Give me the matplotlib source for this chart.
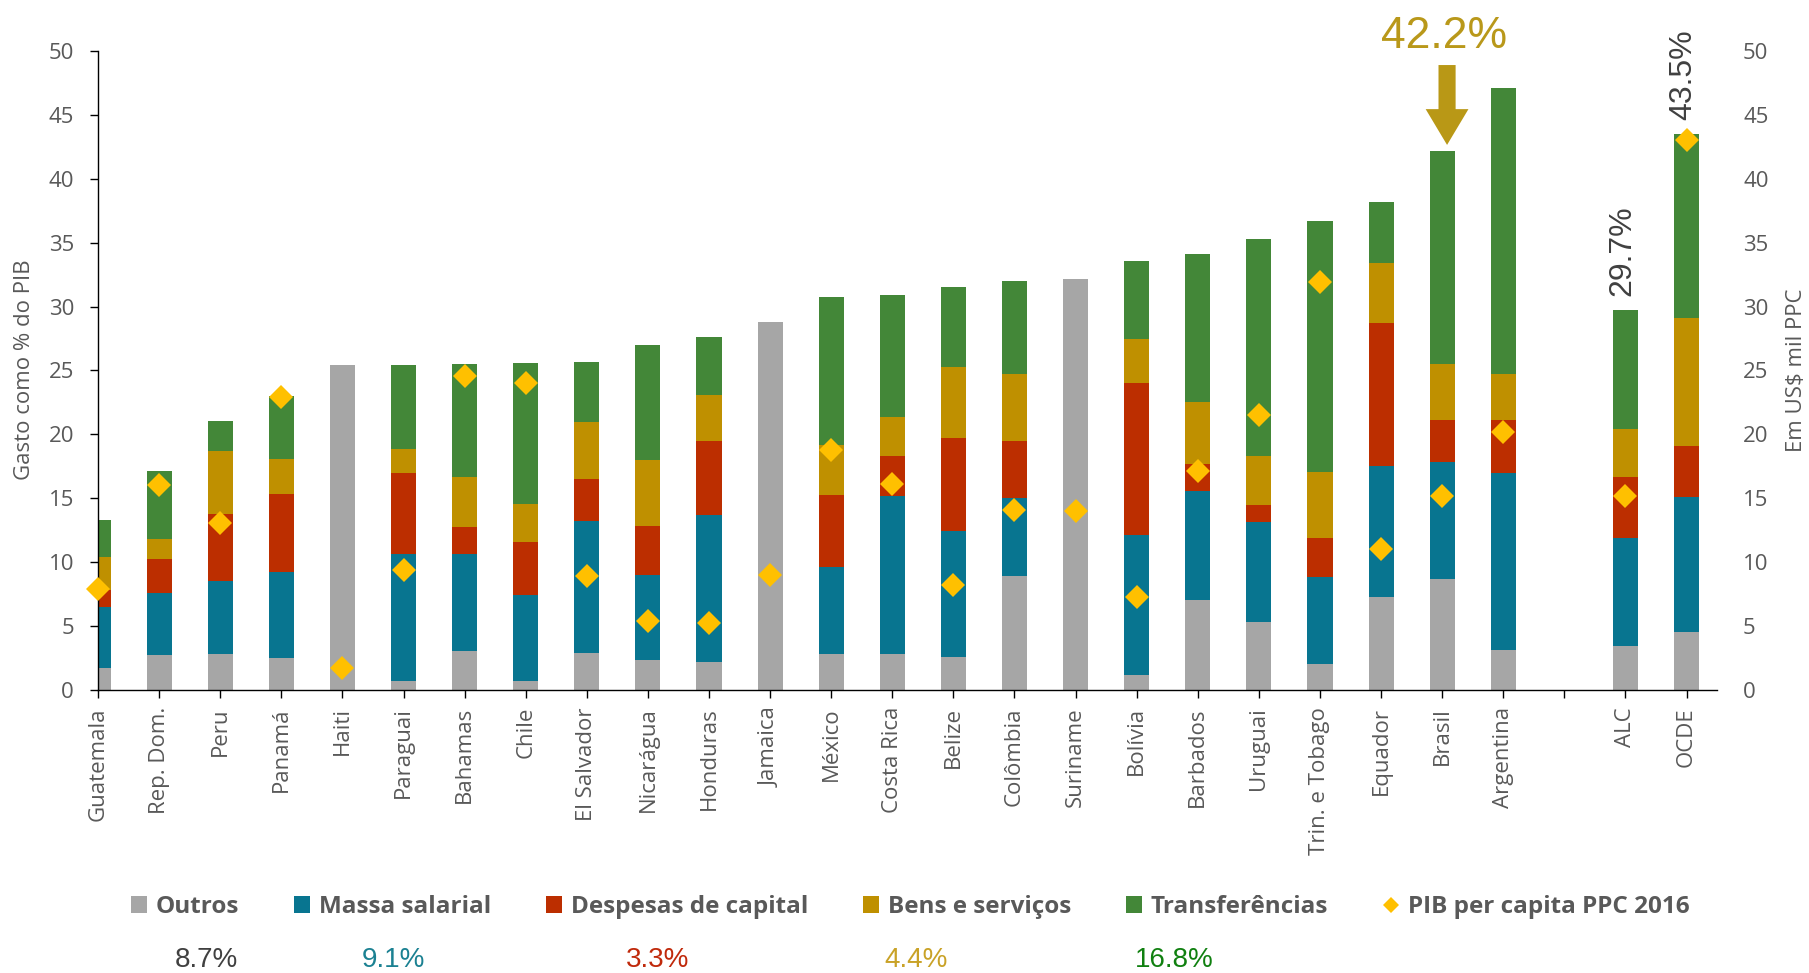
import numpy as np
import matplotlib.pyplot as plt
from matplotlib.patches import Patch, FancyArrow
from matplotlib.lines import Line2D

# gasto publico por componente, % do PIB
paises = ["Guatemala", "Rep. Dom.", "Peru", "Panamá", "Haiti", "Paraguai", "Bahamas", "Chile",
          "El Salvador", "Nicarágua", "Honduras", "Jamaica", "México", "Costa Rica", "Belize",
          "Colômbia", "Suriname", "Bolívia", "Barbados", "Uruguai", "Trin. e Tobago", "Equador",
          "Brasil", "Argentina", "ALC", "OCDE"]

outros = [1.75, 2.73, 2.8, 2.52, 25.4, 0.7, 3.05, 0.7, 2.9, 2.35, 2.17, 28.8, 2.8, 2.8, 2.59,
          8.93, 32.14, 1.16, 7.04, 5.29, 2.03, 7.28, 8.7, 3.12, 3.43, 4.55]
massa_salarial = [4.73, 4.83, 5.74, 6.72, 0, 9.9, 7.55, 6.72, 10.34, 6.65, 11.49, 0, 6.86, 12.4, 9.87,
                  6.06, 0, 10.95, 8.51, 7.88, 6.79, 10.22, 9.1, 13.83, 8.47, 10.51]
despesas_capital = [1.32, 2.7, 5.26, 6.13, 0, 6.35, 2.18, 4.17, 3.29, 3.85, 5.84, 0, 5.61, 3.08, 7.22,
                    4.51, 0, 11.94, 2.17, 1.33, 3.08, 11.18, 3.3, 4.2, 4.73, 4.02]
bens_servicos = [2.63, 1.57, 4.93, 2.73, 0, 1.92, 3.92, 2.98, 4.47, 5.18, 3.6, 0, 3.92, 3.11, 5.57,
                 5.25, 0, 3.4, 4.79, 3.78, 5.12, 4.72, 4.4, 3.6, 3.82, 10.02]
transferencias = [2.87, 5.33, 2.35, 4.87, 0, 6.52, 8.79, 10.99, 4.63, 9.0, 4.5, 0, 11.55, 9.49, 6.26,
                  7.25, 0, 6.09, 11.59, 17.01, 19.67, 4.8, 16.7, 22.38, 9.28, 14.42]
# PIB per capita PPC 2016, mil US$ (eixo direito)
pib_pc = [7.9, 16.0, 13.1, 22.9, 1.75, 9.4, 24.55, 24.0, 8.9, 5.4, 5.25, 8.96, 18.8, 16.1, 8.2,
          14.1, 14.0, 7.25, 17.1, 21.5, 31.9, 11.06, 15.16, 20.2, 15.16, 43.07]

series = ["Outros", "Massa salarial", "Despesas de capital", "Bens e serviços", "Transferências"]
cores = ["#A6A6A6", "#087590", "#BC2E00", "#BF9000", "#438738"]
brasil_txt = ["8.7%", "9.1%", "3.3%", "4.4%", "16.8%"]
brasil_cores = ["#404040", "#1B8192", "#C0290B", "#C9A227", "#108010"]
rotulos_agregados = ["29.7%", "43.5%"]

tick_font = "Open Sans"
cinza = "#595959"

pos = np.r_[np.arange(24), 25, 26]

fig = plt.figure(figsize=(18.09, 9.73), dpi=100)
ax = fig.add_axes([0.0542, 0.2909, 0.8950, 0.6567])

base = np.zeros(len(paises))
for nome, vals, cor in zip(series, [outros, massa_salarial, despesas_capital, bens_servicos, transferencias], cores):
    vals = np.array(vals)
    ax.bar(pos, vals, 0.41, bottom=base, color=cor, linewidth=0, zorder=2)
    base = base + vals
total = base

ax.set_xlim(0, 26.5)
ax.set_ylim(0, 50)
ax.set_yticks(np.arange(0, 51, 5))
ax.set_xticks(np.arange(27))
ax.set_xticklabels(paises[:24] + [""] + paises[24:], rotation=90)
for s in ["top", "right"]:
    ax.spines[s].set_visible(False)
for s in ["left", "bottom"]:
    ax.spines[s].set_linewidth(1.0)
    ax.spines[s].set_color("black")
ax.tick_params(axis="y", length=5.8, width=1, pad=11.5, labelsize=16, labelcolor=cinza)
ax.tick_params(axis="x", length=5.8, width=1, pad=6.5, labelsize=16, labelcolor=cinza)
for lab in ax.get_xticklabels() + ax.get_yticklabels():
    lab.set_fontfamily(tick_font)

ax2 = ax.twinx()
ax2.set_ylim(0, 50)
ax2.set_yticks(np.arange(0, 51, 5))
for s in ax2.spines.values():
    s.set_visible(False)
ax2.tick_params(axis="y", length=0, pad=18.7, labelsize=16, labelcolor=cinza)
for lab in ax2.get_yticklabels():
    lab.set_fontfamily(tick_font)
ax2.plot(pos, pib_pc, linestyle="none", marker="D", ms=12.3, color="#FFC000",
         markeredgewidth=0, zorder=5, clip_on=False)

fig.text(25 / 1809, 1 - 370 / 973, "Gasto como % do PIB", rotation=90, ha="center", va="center",
         fontsize=16, color=cinza, family=tick_font)
fig.text(1796 / 1809, 1 - 370 / 973, "Em US$ mil PPC", rotation=90, ha="center", va="center",
         fontsize=16, color=cinza, family=tick_font)

# destaque do Brasil
i_br = paises.index("Brasil")
ponta = total[i_br] + 0.45
ax.add_patch(FancyArrow(pos[i_br] + 0.08, 48.9, 0, ponta - 48.9, width=0.28, head_width=0.70,
                        head_length=2.8, length_includes_head=True, color="#B99816",
                        linewidth=0, clip_on=False, zorder=6))
ax.text(pos[i_br] + 0.03, 51.1, "42.2%", ha="center", va="center", fontsize=32,
        color="#B9981A", family="Liberation Sans", clip_on=False)

for k, txt in zip([24, 25], rotulos_agregados):
    ax.text(pos[k] - 0.05, total[k] + 1.1, txt, rotation=90, ha="center", va="bottom",
            fontsize=23, color="#404040", family="Liberation Sans", clip_on=False)

handles = [Patch(facecolor=c, edgecolor="none") for c in cores]
handles.append(Line2D([], [], linestyle="none", marker="D", ms=8.5, color="#FFC000", markeredgewidth=0))
fig.legend(handles, series + ["PIB per capita PPC 2016"], loc="center", ncol=6,
           bbox_to_anchor=(910 / 1809, 1 - 907 / 973), frameon=False,
           prop={"family": tick_font, "weight": "bold", "size": 17.5}, labelcolor=cinza,
           handlelength=0.66, handleheight=0.66, handletextpad=0.37, columnspacing=2.25)

for xpx, txt, cor in zip([206, 393, 658, 916, 1174], brasil_txt, brasil_cores):
    fig.text(xpx / 1809, 1 - 960 / 973, txt, ha="center", va="center", fontsize=20,
             color=cor, family="Liberation Sans")

fig.savefig("out.png", dpi=100)
